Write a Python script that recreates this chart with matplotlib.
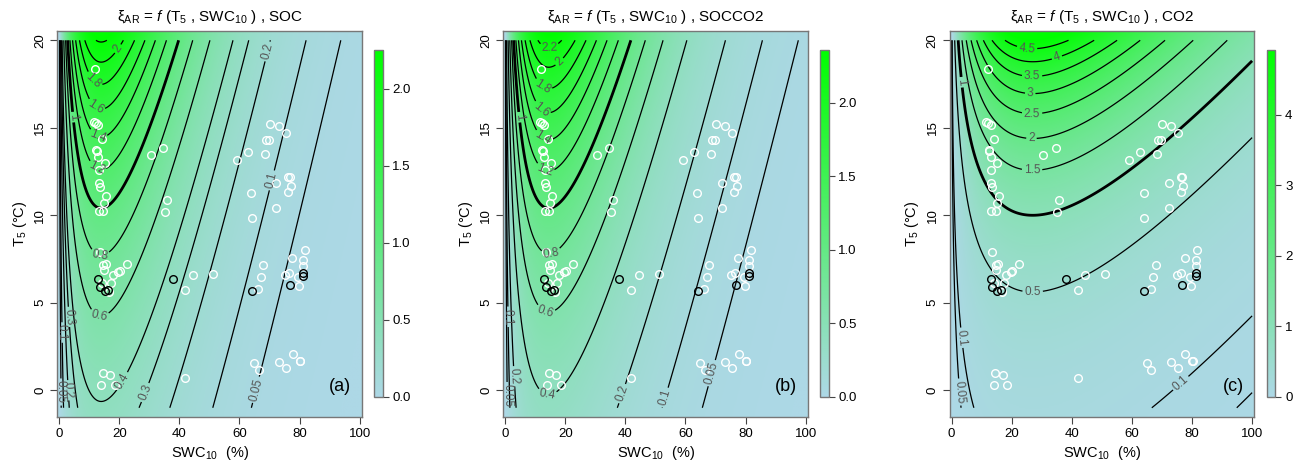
import numpy as np
import matplotlib
matplotlib.use("Agg")
import matplotlib.pyplot as plt
from matplotlib.colors import LinearSegmentedColormap

plt.rcParams['font.family'] = ['Liberation Sans', 'DejaVu Sans']
plt.rcParams['mathtext.fontset'] = 'custom'
plt.rcParams['mathtext.rm'] = 'Liberation Sans'
plt.rcParams['mathtext.it'] = 'Liberation Sans:italic'

# observations: SWC10 (%) and T5 (degC)
swc_white = [12.0, 11.6, 12.2, 13.0, 14.3, 12.4, 12.6, 13.0, 15.2, 13.3, 13.2, 13.5, 15.7, 15.0, 13.3, 14.7,
             30.5, 34.6, 35.8, 35.2, 59.2, 62.8, 68.5, 68.7, 69.7, 70.1, 73.0, 75.4, 64.0, 64.2, 72.2, 72.2,
             76.7, 76.3, 77.1, 76.3,
             13.6, 14.7, 15.5, 14.9, 22.5, 18.0, 19.7, 20.1, 17.3, 16.7, 14.2,
             44.5, 42.0, 51.2, 42.0, 14.5, 17.0, 14.0, 18.6,
             67.9, 67.0, 66.3, 75.1, 76.5, 77.6, 81.7, 81.2, 81.2, 79.5, 79.8,
             65.0, 66.5, 73.1, 75.5, 77.7, 80.1, 80.3]
t5_white = [18.36, 15.35, 15.26, 15.14, 14.38, 13.71, 13.66, 13.31, 12.97, 12.61, 11.85, 11.6, 11.1, 10.72, 10.23, 10.23,
            13.45, 13.86, 10.86, 10.17, 13.16, 13.63, 13.48, 14.32, 14.32, 15.22, 15.10, 14.68, 11.26, 9.85, 11.86, 10.4,
            12.19, 12.19, 11.67, 11.35,
            7.89, 7.16, 7.2, 6.87, 7.22, 6.59, 6.74, 6.82, 6.15, 5.63, 6.11,
            6.57, 5.73, 6.63, 0.70, 0.99, 0.86, 0.32, 0.32,
            7.16, 6.49, 5.79, 6.61, 6.68, 7.54, 8.02, 7.45, 7.12, 6.45, 5.98,
            1.54, 1.16, 1.64, 1.26, 2.06, 1.67, 1.65]
swc_black = [13.1, 13.6, 15.3, 16.4, 38.0, 64.2, 76.7, 81.2, 81.2]
t5_black = [6.34, 5.89, 5.67, 5.73, 6.36, 5.69, 6.02, 6.68, 6.53]

panel_names = ["SOC", "SOCCO2", "CO2"]
panel_tags = ["(a)", "(b)", "(c)"]
# fitted response: exp(k (T - Tref)) * (SWC / SWCopt) * exp(1 - SWC / SWCopt)
temp_sens = [0.083, 0.086, 0.158]
temp_ref = [10.4, 10.4, 10.0]
swc_opt = [14.0, 14.5, 27.0]
zmax = [2.25, 2.36, 4.92]
levels = [
    [0.05, 0.1, 0.2, 0.3, 0.4, 0.6, 0.8, 1, 1.2, 1.4, 1.6, 1.8, 2, 2.2],
    [0.05, 0.1, 0.2, 0.4, 0.6, 0.8, 1, 1.2, 1.4, 1.6, 1.8, 2, 2.2],
    [0.05, 0.1, 0.5, 1, 1.5, 2, 2.5, 3, 3.5, 4, 4.5],
]
cbar_ticks = [[0, 0.5, 1, 1.5, 2], [0, 0.5, 1, 1.5, 2], [0, 1, 2, 3, 4]]
cbar_fmt = ['%.1f', '%.1f', '%d']

# where the contour labels sit
label_pos = [
    [(19.7, 19.5), (13.3, 18.0), (13.1, 16.4), (13.6, 14.8), (13.3, 12.9), (4.2, 15.6), (13.6, 7.8),
     (13.3, 4.25), (4.0, 4.2), (22.3, 0.4), (29.7, -0.2), (68.4, 19.4), (70.6, 12.0), (66.2, 0.0),
     (0.9, 3.3), (0.3, -0.1), (3.1, 0.0)],
    [(14.6, 19.86), (18.5, 18.7), (12.9, 17.45), (12.9, 16.2), (12.9, 14.5), (13.8, 12.8), (4.6, 15.6),
     (15.1, 7.96), (13.5, 4.55), (14.0, -0.2), (39.1, -0.2), (53.0, -0.4), (68.3, 1.0), (3.0, 0.8),
     (0.8, -0.3), (1.3, 4.2)],
    [(25.1, 19.5), (35.1, 19.0), (26.8, 18.0), (26.2, 17.0), (26.8, 15.8), (26.6, 14.4), (26.8, 12.6),
     (3.3, 17.6), (27, 5.7), (3.3, 3.0), (2.7, -0.1), (76.3, 0.4)],
]


def response(swc, t5, k, tref, sopt):
    u = np.clip(swc, 0, None) / sopt
    return np.exp(k * (t5 - tref)) * u * np.exp(1 - u)


cmap = LinearSegmentedColormap.from_list("lbg", ["lightblue", "#00FF00"])
W, H = 1304, 468
fig = plt.figure(figsize=(W / 100, H / 100), dpi=100)

ax_left = [57.3, 503.3, 949.7]
cb_left = [374, 820, 1266.7]
xlim = (-0.6, 100.7)
ylim = (-1.51, 20.53)
edge = '#444444'

for i in range(3):
    ax = fig.add_axes([ax_left[i] / W, 1 - 416.7 / H, 304.5 / W, 385.7 / H])
    k, tref, sopt = temp_sens[i], temp_ref[i], swc_opt[i]

    xi = np.linspace(xlim[0], xlim[1], 400)
    yi = np.linspace(ylim[0], ylim[1], 300)
    XI, YI = np.meshgrid(xi, yi)
    im = ax.imshow(response(XI, YI, k, tref, sopt), extent=(xlim[0], xlim[1], ylim[0], ylim[1]),
                   origin='lower', aspect='auto', cmap=cmap, vmin=0, vmax=zmax[i],
                   interpolation='bilinear')

    xc = np.linspace(0, 100, 801)
    yc = np.linspace(-1, 20, 211)
    XC, YC = np.meshgrid(xc, yc)
    zc = response(XC, YC, k, tref, sopt)
    lws = [2.0 if lv == 1 else 0.9 for lv in levels[i]]
    cs = ax.contour(XC, YC, zc, levels=levels[i], colors='black', linewidths=lws)
    lab = ax.clabel(cs, fmt='%g', fontsize=8.5, inline=True, inline_spacing=2, manual=label_pos[i])
    for t in lab:
        t.set_color('#555555')

    ax.plot(swc_white, t5_white, 'o', mfc='none', mec='white', ms=5.5, mew=1.0)
    ax.plot(swc_black, t5_black, 'o', mfc='none', mec='black', ms=5.5, mew=1.0)

    ax.set_xlim(xlim)
    ax.set_ylim(ylim)
    ax.set_xticks([0, 20, 40, 60, 80, 100])
    ax.set_yticks([0, 5, 10, 15, 20])
    ax.tick_params(direction='out', length=5, width=0.8, color=edge, labelsize=9.5, pad=3)
    for lbl in ax.get_yticklabels():
        lbl.set_rotation(90)
        lbl.set_va('center')
    for s in ax.spines.values():
        s.set_color('#777777')
        s.set_linewidth(1.0)

    ax.set_title('ξ$_{\\rm AR}$ = $f$ (T$_5$ , SWC$_{10}$ ) , ' + panel_names[i], fontsize=11, pad=7)
    ax.set_xlabel('SWC$_{10}$  (%)', fontsize=10.5, labelpad=3)
    ax.set_ylabel('T$_5$ (°C)', fontsize=10.5, labelpad=4)
    ax.text(0.965, 0.055, panel_tags[i], transform=ax.transAxes, ha='right', va='bottom', fontsize=13)

    cax = fig.add_axes([cb_left[i] / W, 1 - 396.7 / H, 8.7 / W, 346.7 / H])
    cb = fig.colorbar(im, cax=cax, ticks=cbar_ticks[i], format=cbar_fmt[i])
    cb.outline.set_edgecolor('#777777')
    cb.outline.set_linewidth(1.0)
    cax.tick_params(direction='out', length=4, width=0.8, color=edge, labelsize=9.5, pad=3)

fig.savefig("out.png", dpi=100)
